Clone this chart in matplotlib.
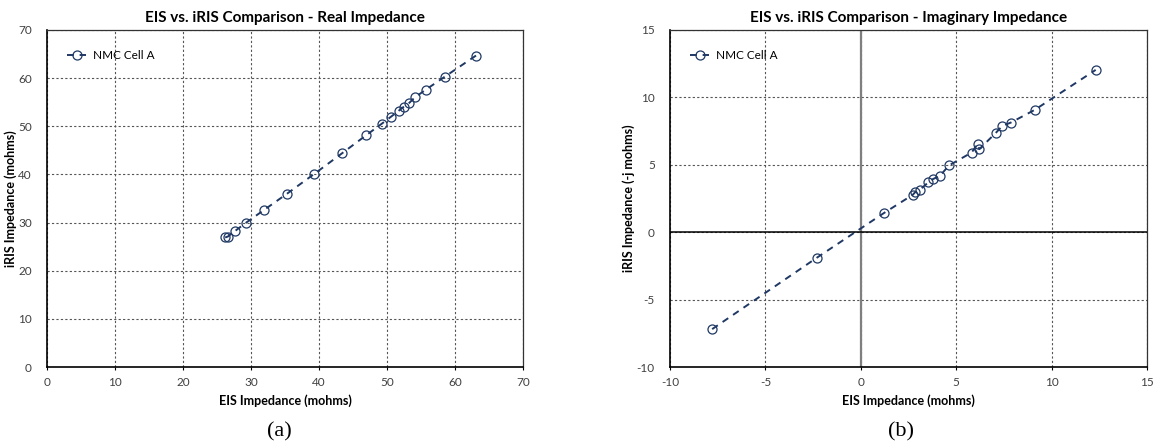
import matplotlib
matplotlib.use('Agg')
import matplotlib.pyplot as plt

# 数据：实部
real_eis = [26.2, 26.6, 27.7, 29.3, 31.9, 35.3, 39.3, 43.4, 46.9, 49.2,
            50.6, 51.7, 52.5, 53.3, 54.1, 55.7, 58.5, 63.1]
real_iris = [26.9, 27.1, 28.3, 30.0, 32.6, 36.0, 40.1, 44.4, 48.1, 50.5,
             52.0, 53.2, 54.1, 54.9, 56.0, 57.6, 60.3, 64.7]

# 数据：虚部
imag_eis = [-7.79, -2.29, 1.20, 2.72, 2.85, 3.09, 3.53, 3.77, 4.16, 4.62,
            5.81, 6.12, 6.21, 7.09, 7.42, 7.86, 9.11, 12.31]
imag_iris = [-7.19, -1.88, 1.41, 2.77, 2.97, 3.14, 3.69, 3.93, 4.20, 4.95,
             5.91, 6.55, 6.16, 7.39, 7.89, 8.13, 9.07, 12.04]

real_ticks = [0, 10, 20, 30, 40, 50, 60, 70]
imag_ticks = [-10, -5, 0, 5, 10, 15]

navy = '#1f3864'
plt.rcParams['font.family'] = ['Lato', 'DejaVu Sans']
plt.rcParams['axes.unicode_minus'] = False

fig = plt.figure(figsize=(11.55, 4.48), dpi=100)
ax1 = fig.add_axes([47 / 1155, 81 / 448, 476 / 1155, 337 / 448])
ax2 = fig.add_axes([670 / 1155, 81 / 448, 477 / 1155, 337 / 448])


def style(ax, ticks, title, ylabel):
    ax.set_xlim(ticks[0], ticks[-1])
    ax.set_ylim(ticks[0], ticks[-1])
    ax.set_xticks(ticks)
    ax.set_yticks(ticks)
    ax.grid(True, color='#555555', linestyle=(0, (2, 2)), linewidth=0.8)
    ax.set_axisbelow(True)
    ax.tick_params(axis='x', length=2.5, width=0.8, labelsize=8.5,
                   labelcolor='#404040', pad=5)
    ax.tick_params(axis='y', length=0, labelsize=8.5, labelcolor='#404040', pad=11)
    for s in ['left', 'bottom']:
        ax.spines[s].set_linewidth(1.2)
        ax.spines[s].set_color('black')
    for s in ['top', 'right']:
        ax.spines[s].set_linewidth(0.9)
        ax.spines[s].set_color('#333333')
    ax.set_title(title, fontsize=11, fontweight='bold', pad=6)
    ax.set_xlabel('EIS Impedance (mohms)', fontsize=9, fontweight='bold', labelpad=4)
    ax.set_ylabel(ylabel, fontsize=9, fontweight='bold', labelpad=1)


def draw(ax, x, y):
    ax.plot(x, y, color=navy, linestyle=(0, (3.5, 3)), linewidth=1.4,
            marker='o', markersize=6.5, markerfacecolor='none',
            markeredgecolor=navy, markeredgewidth=0.9, label='NMC Cell A', zorder=3)
    ax.legend(loc='upper left', frameon=False, fontsize=8.5, handlelength=1.6,
              borderaxespad=1.3, handletextpad=0.6)


style(ax1, real_ticks, 'EIS vs. iRIS Comparison - Real Impedance', 'iRIS Impedance (mohms)')
draw(ax1, real_eis, real_iris)

style(ax2, imag_ticks, 'EIS vs. iRIS Comparison - Imaginary Impedance', 'iRIS Impedance (-j mohms)')
ax2.axvline(0, color='#7f7f7f', linewidth=1.6, zorder=2)
ax2.axhline(0, color='black', linewidth=1.1, zorder=2)
draw(ax2, imag_eis, imag_iris)

fig.text(279 / 1155, 1 - 432 / 448, '(a)', ha='center', va='center',
         fontsize=16, family='Liberation Serif')
fig.text(901 / 1155, 1 - 432 / 448, '(b)', ha='center', va='center',
         fontsize=16, family='Liberation Serif')

fig.savefig('out.png', dpi=100)
